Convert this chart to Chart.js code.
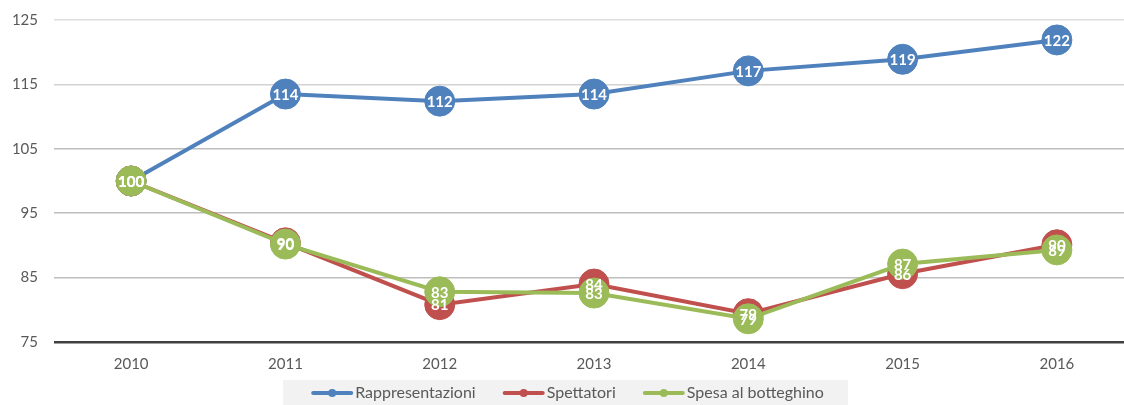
<!DOCTYPE html>
<html>
<head>
<meta charset="utf-8">
<script src="https://cdn.jsdelivr.net/npm/chart.js@4.4.1/dist/chart.umd.min.js"></script>
<style>
  html, body { margin: 0; padding: 0; background: #ffffff; overflow: hidden; }
  #wrap { width: 1124px; height: 405px; position: relative; }
</style>
</head>
<body>
<div id="wrap"><canvas id="c" width="1124" height="405"></canvas></div>
<script>
// ---- data ----
const categories = ['2010', '2011', '2012', '2013', '2014', '2015', '2016'];
const seriesNames = ['Rappresentazioni', 'Spettatori', 'Spesa al botteghino'];
const rappresentazioni = [100, 113.5, 112.4, 113.5, 117.1, 118.9, 121.9];
const spettatori = [100, 90.4, 80.8, 84.0, 79.4, 85.6, 90.1];
const spesa = [100, 90.2, 82.8, 82.6, 78.6, 87.1, 89.3];
const yTicks = [75, 85, 95, 105, 115, 125];

const colors = ['#4F81BD', '#C0504D', '#9BBB59'];
const seriesValues = [rappresentazioni, spettatori, spesa];

const FONT = 'Lato, "Open Sans", sans-serif';

function toPoints(arr) { return arr.map((v, i) => ({ x: i, y: v })); }

const datasets = seriesValues.map((vals, k) => ({
  label: seriesNames[k],
  data: toPoints(vals),
  borderColor: colors[k],
  backgroundColor: colors[k],
  borderWidth: 4,
  pointRadius: 15,
  pointHoverRadius: 15,
  pointBorderWidth: 1,
  pointBackgroundColor: colors[k],
  pointBorderColor: colors[k],
  tension: 0,
  clip: false,
  order: 2 - k
}));

const labelPlugin = {
  id: 'valueLabels',
  afterDatasetsDraw(chart) {
    const ctx = chart.ctx;
    ctx.save();
    ctx.font = 'bold 15px ' + FONT;
    ctx.fillStyle = '#ffffff';
    ctx.textAlign = 'center';
    ctx.textBaseline = 'middle';
    chart.data.datasets.forEach((ds, di) => {
      const meta = chart.getDatasetMeta(di);
      meta.data.forEach((pt, i) => {
        ctx.fillText(String(Math.round(seriesValues[di][i])), pt.x, pt.y + 1);
      });
    });
    ctx.restore();
  }
};

const legendPlugin = {
  id: 'customLegend',
  afterDraw(chart) {
    const ctx = chart.ctx;
    ctx.save();
    ctx.fillStyle = '#F2F2F2';
    ctx.fillRect(283, 380, 565, 25);
    ctx.font = '16px ' + FONT;
    const lineW = 40, gap = 3, itemGap = 28;
    const widths = seriesNames.map(n => ctx.measureText(n).width);
    const total = widths.reduce((a, w) => a + lineW + gap + w, 0) + itemGap * (seriesNames.length - 1);
    let x = 568 - total / 2;
    const y = 393;
    seriesNames.forEach((n, k) => {
      ctx.strokeStyle = colors[k];
      ctx.lineWidth = 4;
      ctx.lineCap = 'round';
      ctx.beginPath();
      ctx.moveTo(x + 1, y);
      ctx.lineTo(x + lineW - 1, y);
      ctx.stroke();
      ctx.fillStyle = colors[k];
      ctx.beginPath();
      ctx.arc(x + lineW / 2, y, 4, 0, Math.PI * 2);
      ctx.fill();
      ctx.fillStyle = '#595959';
      ctx.textAlign = 'left';
      ctx.textBaseline = 'middle';
      ctx.fillText(n, x + lineW + gap, y);
      x += lineW + gap + widths[k] + itemGap;
    });
    ctx.restore();
  }
};

new Chart(document.getElementById('c'), {
  type: 'line',
  data: { datasets },
  options: {
    responsive: false,
    animation: false,
    events: [],
    layout: { autoPadding: false, padding: { top: 20, right: 0, bottom: 27, left: 0 } },
    plugins: { legend: { display: false }, tooltip: { enabled: false } },
    scales: {
      x: {
        type: 'linear',
        min: -0.5,
        max: 6.435,
        afterBuildTicks(scale) { scale.ticks = categories.map((c, i) => ({ value: i })); },
        afterFit(scale) { scale.height = 36; scale.paddingLeft = 0; scale.paddingRight = 0; },
        grid: { display: false, drawTicks: false },
        border: { display: false },
        ticks: {
          padding: 13,
          color: '#595959',
          font: { family: FONT, size: 15 },
          callback: (v) => categories[v]
        }
      },
      y: {
        min: 75,
        max: 125,
        afterBuildTicks(scale) { scale.ticks = yTicks.map(v => ({ value: v })); },
        afterFit(scale) { scale.width = 54; scale.paddingTop = 0; scale.paddingBottom = 0; },
        border: { display: false },
        grid: {
          drawTicks: false,
          color: (c) => {
            const v = c.tick ? c.tick.value : 0;
            if (v === 75) return '#404040';
            if (v === 125) return '#DEDEDE';
            if (v === 115) return '#D2D2D2';
            return '#BEBEBE';
          },
          lineWidth: (c) => (c.tick && c.tick.value === 75) ? 2.5 : 1.5
        },
        ticks: {
          padding: 16,
          color: '#595959',
          font: { family: FONT, size: 15 }
        }
      }
    }
  },
  plugins: [labelPlugin, legendPlugin]
});
</script>
</body>
</html>
